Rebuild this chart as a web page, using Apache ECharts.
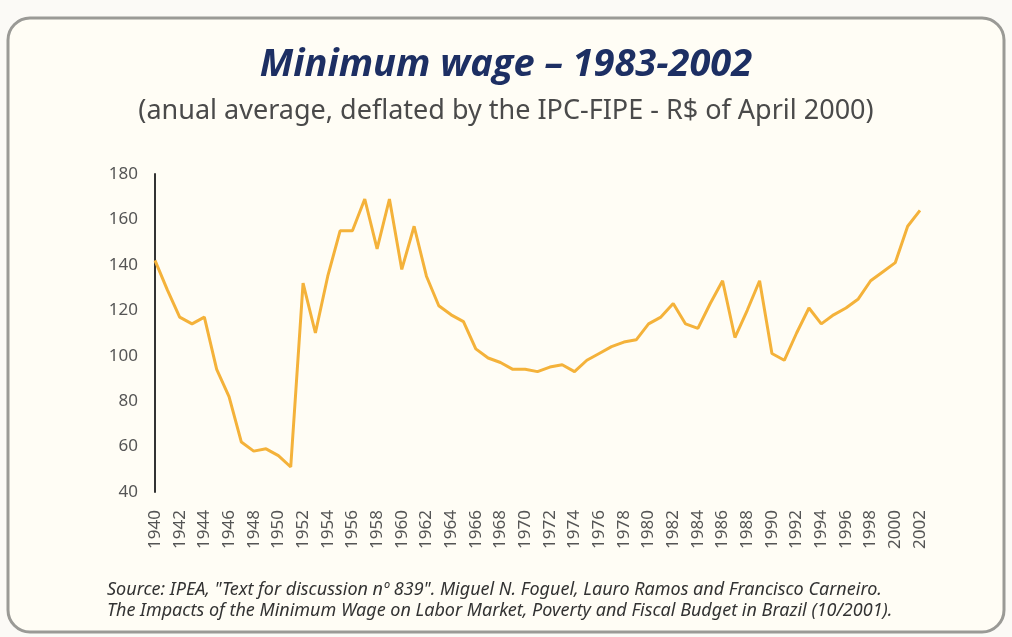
<!DOCTYPE html>
<html>
<head>
<meta charset="utf-8">
<title>Minimum wage</title>
<script src="https://cdn.jsdelivr.net/npm/echarts@6/dist/echarts.min.js"></script>
<style>
  html, body { margin: 0; padding: 0; background: #fbfaf6; }
  #chart { width: 1012px; height: 637px; }
</style>
</head>
<body>
<div id="chart"></div>
<script>
// anos 1940-2002
const years = [];
for (let y = 1940; y <= 2002; y++) years.push(String(y));

const wage = [
  142, 129, 117, 114, 117, 94, 82, 62, 58, 59,
  56, 51, 132, 110, 135, 155, 155, 169, 147, 169,
  138, 157, 135, 122, 118, 115, 103, 99, 97, 94,
  94, 93, 95, 96, 93, 98, 101, 104, 106, 107,
  114, 117, 123, 114, 112, 123, 133, 108, 120, 133,
  101, 98, 110, 121, 114, 118, 121, 125, 133, 137,
  141, 157, 164
];

const yTicks = { min: 40, max: 180, interval: 20 };

const titleText = 'Minimum wage \u2013 1983-2002';
const subtitleText = '(anual average, deflated by the IPC-FIPE - R$ of April 2000)';
const sourceLines = [
  'Source: IPEA, "Text for discussion n\u00ba 839". Miguel N. Foguel, Lauro Ramos and Francisco Carneiro.',
  'The Impacts of the Minimum Wage on Labor Market, Poverty and Fiscal Budget in Brazil (10/2001).'
];

const chart = echarts.init(document.getElementById('chart'));

const option = {
  animation: false,
  backgroundColor: '#fbfaf6',
  graphic: [
    {
      type: 'rect',
      z: -10,
      shape: { x: 8, y: 18, width: 996, height: 614, r: 22 },
      style: { fill: '#fffdf5', stroke: '#9a9a96', lineWidth: 3 }
    },
    {
      type: 'text',
      left: 'center',
      top: 46,
      style: {
        text: titleText,
        font: 'italic bold 38px "Open Sans", sans-serif',
        fill: '#1d2f63'
      }
    },
    {
      type: 'text',
      left: 'center',
      top: 98,
      style: {
        text: subtitleText,
        font: '27px "Noto Sans", sans-serif',
        fill: '#4a4a4a'
      }
    },
    {
      type: 'text',
      left: 107,
      top: 579,
      style: {
        text: sourceLines.join('\n'),
        font: 'italic 18px "Noto Sans", sans-serif',
        lineHeight: 21,
        fill: '#333'
      }
    }
  ],
  grid: {
    left: 155,
    right: 92,
    top: 174,
    bottom: 145
  },
  xAxis: {
    type: 'category',
    data: years,
    boundaryGap: false,
    axisLine: { show: false },
    axisTick: { show: false },
    axisLabel: {
      interval: 1,
      rotate: 90,
      margin: 18,
      color: '#555',
      fontSize: 17,
      fontFamily: 'Noto Sans'
    }
  },
  yAxis: {
    type: 'value',
    min: yTicks.min,
    max: yTicks.max,
    interval: yTicks.interval,
    axisLine: { show: true, lineStyle: { color: '#333', width: 2 } },
    axisTick: { show: false },
    splitLine: { show: false },
    axisLabel: {
      margin: 17,
      color: '#555',
      fontSize: 17,
      fontFamily: 'Noto Sans'
    }
  },
  series: [
    {
      type: 'line',
      data: wage,
      symbol: 'none',
      lineStyle: { color: '#f4b23a', width: 3 }
    }
  ]
};

chart.setOption(option);
</script>
</body>
</html>
